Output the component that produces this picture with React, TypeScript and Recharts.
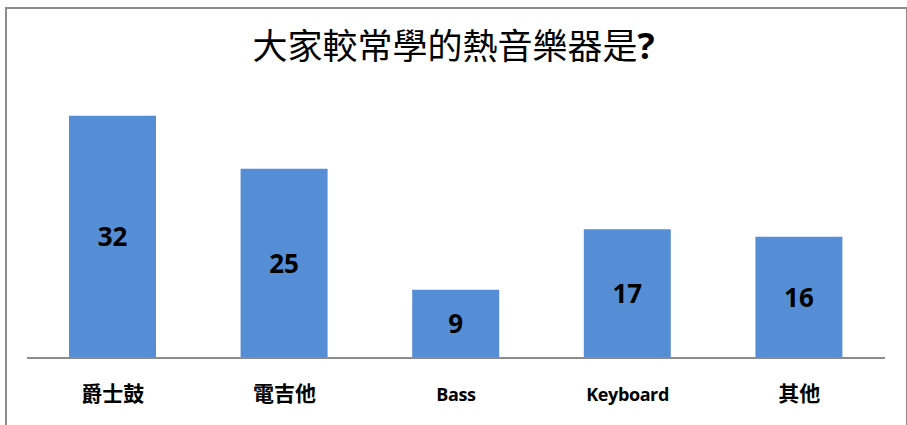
import { BarChart, Bar, XAxis, YAxis, LabelList } from 'recharts';

const instruments = ['爵士鼓', '電吉他', 'Bass', 'Keyboard', '其他'];
const counts = [32, 25, 9, 17, 16];
const yTicks = [0, 5, 10, 15, 20, 25, 30, 35];

const data = instruments.map((name, i) => ({ name, count: counts[i] }));

const latinFont = "'Open Sans', sans-serif";
const cjkFont = "'Noto Sans CJK TC', sans-serif";

const Tick = ({ x, y, payload }: any) => {
  const latin = /^[A-Za-z ]+$/.test(payload.value);
  return (
    <text
      x={x}
      y={y + 35}
      textAnchor="middle"
      fontFamily={latin ? latinFont : cjkFont}
      fontWeight="bold"
      fontSize={latin ? 18 : 21}
      letterSpacing={latin ? -0.4 : 0}
      fill="#000"
    >
      {payload.value}
    </text>
  );
};

export default function App() {
  return (
    <div style={{ position: 'absolute', left: 0, top: 0, width: 907, height: 425, overflow: 'hidden', background: '#fff' }}>
      <div
        style={{
          position: 'absolute',
          left: 5,
          top: 7,
          width: 899,
          height: 460,
          border: '2px solid #8c8c8c',
        }}
      />
      <div
        style={{
          position: 'absolute',
          left: 0,
          top: 22,
          width: 907,
          textAlign: 'center',
          fontFamily: cjkFont,
          fontSize: 35,
          lineHeight: '44px',
          color: '#000',
        }}
      >
        大家較常學的熱音樂器是<span style={{ fontFamily: latinFont, fontWeight: 'bold', fontSize: 36 }}>?</span>
      </div>
      <div style={{ position: 'absolute', left: 0, top: 0 }}>
        <BarChart width={907} height={425} data={data} margin={{ top: 93, right: 22, left: 27, bottom: 0 }} barSize={87}>
          <XAxis
            dataKey="name"
            height={67}
            axisLine={{ stroke: '#8c8c8c', strokeWidth: 2 }}
            tickLine={false}
            tick={<Tick />}
            interval={0}
          />
          <YAxis hide domain={[0, 35]} ticks={yTicks} />
          <Bar dataKey="count" fill="#558ed5" isAnimationActive={false}>
            <LabelList
              dataKey="count"
              position="center"
              fill="#000"
              fontWeight="bold"
              fontSize={26}
              fontFamily={latinFont}
            />
          </Bar>
        </BarChart>
      </div>
    </div>
  );
}
